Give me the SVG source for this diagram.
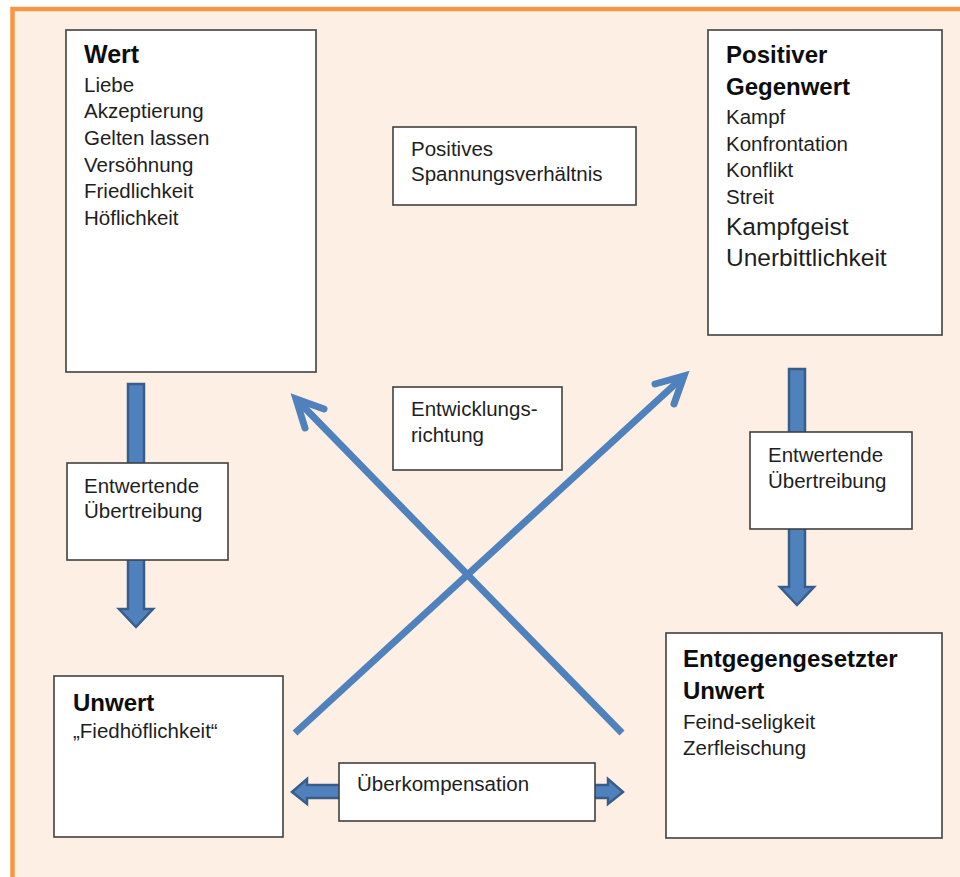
<svg xmlns="http://www.w3.org/2000/svg" width="960" height="877" viewBox="0 0 960 877">
<style>
.box{fill:#ffffff;stroke:#404040;stroke-width:1.6}
.t{font-family:"Liberation Sans",Arial,sans-serif;font-size:20.5px;fill:#1e1e1e}
.h{font-family:"Liberation Sans",Arial,sans-serif;font-size:24px;font-weight:bold;fill:#0d0d0d}
.big{font-size:24.5px}
.blk{fill:#4F81BD;stroke:#385D8A;stroke-width:2.5;stroke-linejoin:miter}
.diag{fill:none;stroke:#4F81BD;stroke-width:7;stroke-linecap:butt}
.head{fill:none;stroke:#4F81BD;stroke-width:7;stroke-linecap:round;stroke-linejoin:miter}
</style>
<rect x="0" y="0" width="960" height="877" fill="#ffffff"/>
<rect id="frame" x="12.5" y="9" width="960" height="880" fill="#FDEFE4" stroke="#F79646" stroke-width="4.5"/>
<g id="connectors">
  <path id="down-left" class="blk" d="M128,384 H144 V609 H153 L136,627 L119,609 H128 Z"/>
  <path id="down-right" class="blk" d="M789,369 H805 V587 H814 L797,605 L780,587 H789 Z"/>
  <path id="both-ways" class="blk" d="M292,792 L307,779 V785 H608 V779 L623,792 L608,804 V798 H307 V804 Z"/>
  <path id="diag-up-right" class="diag" d="M295,733 L684,376"/>
  <path class="head" d="M655,384 L684,376 L674,404"/>
  <path id="diag-up-left" class="diag" d="M622,733 L296,399"/>
  <path class="head" d="M324,409 L296,399 L305,428"/>
</g>
<g id="wert">
  <rect class="box" x="66" y="30" width="250" height="342"/>
  <text class="h" x="84" y="63" style="font-size:25px">Wert</text>
  <text class="t" x="84" y="92">Liebe</text>
  <text class="t" x="84" y="118">Akzeptierung</text>
  <text class="t" x="84" y="145">Gelten lassen</text>
  <text class="t" x="84" y="172">Versöhnung</text>
  <text class="t" x="84" y="198">Friedlichkeit</text>
  <text class="t" x="84" y="225">Höflichkeit</text>
</g>
<g id="positiver-gegenwert">
  <rect class="box" x="708" y="30" width="234" height="305"/>
  <text class="h" x="726" y="63">Positiver</text>
  <text class="h" x="726" y="95">Gegenwert</text>
  <text class="t" x="726" y="124">Kampf</text>
  <text class="t" x="726" y="151">Konfrontation</text>
  <text class="t" x="726" y="177">Konflikt</text>
  <text class="t" x="726" y="204">Streit</text>
  <text class="t big" x="726" y="235">Kampfgeist</text>
  <text class="t big" x="726" y="266">Unerbittlichkeit</text>
</g>
<g id="spannungsverhaeltnis">
  <rect class="box" x="393" y="127" width="243" height="78"/>
  <text class="t" x="411" y="156">Positives</text>
  <text class="t" x="411" y="181">Spannungsverhältnis</text>
</g>
<g id="entwicklungsrichtung">
  <rect class="box" x="393" y="387" width="169" height="83"/>
  <text class="t" x="411" y="416">Entwicklungs-</text>
  <text class="t" x="411" y="442">richtung</text>
</g>
<g id="uebertreibung-left">
  <rect class="box" x="67" y="463" width="161" height="97"/>
  <text class="t" x="84" y="493">Entwertende</text>
  <text class="t" x="84" y="518">Übertreibung</text>
</g>
<g id="uebertreibung-right">
  <rect class="box" x="750" y="432" width="162" height="97"/>
  <text class="t" x="768" y="462">Entwertende</text>
  <text class="t" x="768" y="488">Übertreibung</text>
</g>
<g id="unwert">
  <rect class="box" x="54" y="676" width="229" height="161"/>
  <text class="h" x="73" y="711">Unwert</text>
  <text class="t" x="73" y="738">„Fiedhöflichkeit“</text>
</g>
<g id="entgegengesetzter-unwert">
  <rect class="box" x="666" y="633" width="276" height="205"/>
  <text class="h" x="683" y="667">Entgegengesetzter</text>
  <text class="h" x="683" y="699">Unwert</text>
  <text class="t" x="683" y="729">Feind-seligkeit</text>
  <text class="t" x="683" y="755">Zerfleischung</text>
</g>
<g id="ueberkompensation">
  <rect class="box" x="339" y="763" width="256" height="58"/>
  <text class="t" x="357" y="791">Überkompensation</text>
</g>
</svg>
